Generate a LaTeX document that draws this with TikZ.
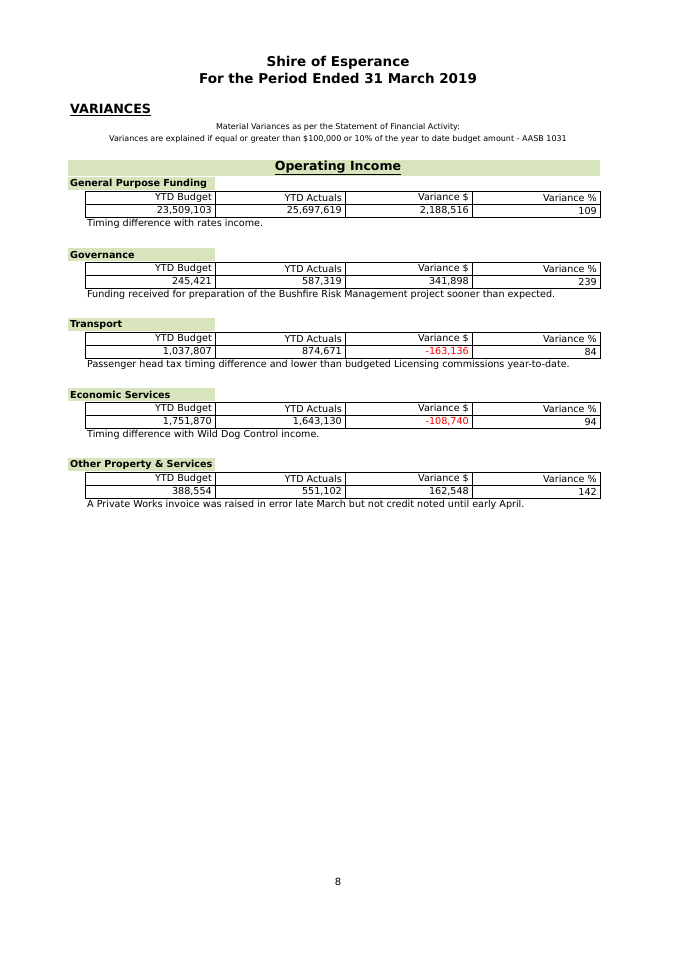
\documentclass[tikz,border=0pt]{standalone}
\usepackage{fontspec}
\setmainfont{DejaVu Sans}
\usepackage{xcolor}
\definecolor{bandgreen}{HTML}{D8E4BC}
\definecolor{negred}{HTML}{FF0000}
\newcommand{\varrow}[8]{%
% header box
\fill[bandgreen] (68,#1) rectangle (215,#1+13);
\node[anchor=west,font=\fontsize{9.6}{10}\selectfont\bfseries,inner sep=1pt] (h#1) at (69,#1+6.5) {#2};
% table
\draw[thin] (85,#1+14) rectangle (600,#1+40);
\draw[thin] (85,#1+27) -- (600,#1+27);
\foreach \cx in {215,345,472} {\draw[thin] (\cx,#1+14) -- (\cx,#1+40);}
\node[cell] at (213,#1+20.5) {YTD Budget};
\node[cell] at (343,#1+20.5) {YTD Actuals};
\node[cell] at (470,#1+20.5) {Variance \$};
\node[cell] at (598,#1+20.5) {Variance \%};
\node[cell] at (213,#1+33.5) {#3};
\node[cell] at (343,#1+33.5) {#4};
\node[cell,text=#8] at (470,#1+33.5) {#5};
\node[cell] at (598,#1+33.5) {#6};
\node[anchor=west,font=\fontsize{9.6}{10}\selectfont,inner sep=1pt] (n#1) at (86,#1+47) {#7};
}
\begin{document}
\begin{tikzpicture}[x=1pt,y=-1pt,
  cell/.style={anchor=east,font=\fontsize{9.6}{10}\selectfont,inner sep=1pt}]
\useasboundingbox[fill=white] (0,0) rectangle (675,954);

\node[font=\fontsize{13.5}{14}\selectfont\bfseries] (title) at (338,63) {Shire of Esperance};
\node[font=\fontsize{13.5}{14}\selectfont\bfseries] (period) at (338,78) {For the Period Ended 31 March 2019};
\node[anchor=west,font=\fontsize{12.7}{14}\selectfont\bfseries,inner sep=1pt] (var) at (69,110) {\underline{VARIANCES}};
\node[font=\fontsize{8}{9}\selectfont] (mat) at (338,127) {Material Variances as per the Statement of Financial Activity:};
\node[font=\fontsize{8}{9}\selectfont] (expl) at (338,139) {Variances are explained if equal or greater than \$100,000 or 10\% of the year to date budget amount - AASB 1031};

\fill[bandgreen] (68,160) rectangle (600,176);
\node[font=\fontsize{12.5}{13}\selectfont\bfseries] (opinc) at (338,168) {\underline{Operating Income}};

\varrow{177}{General Purpose Funding}{23,509,103}{25,697,619}{2,188,516}{109}{Timing difference with rates income.}{black}
\varrow{248}{Governance}{245,421}{587,319}{341,898}{239}{Funding received for preparation of the Bushfire Risk Management project sooner than expected.}{black}
\varrow{318}{Transport}{1,037,807}{874,671}{-163,136}{84}{Passenger head tax timing difference and lower than budgeted Licensing commissions year-to-date.}{negred}
\varrow{388}{Economic Services}{1,751,870}{1,643,130}{-108,740}{94}{Timing difference with Wild Dog Control income.}{negred}
\varrow{458}{Other Property \& Services}{388,554}{551,102}{162,548}{142}{A Private Works invoice was raised in error late March but not credit noted until early April.}{black}

\node[font=\fontsize{10}{11}\selectfont\rmfamily] (page) at (338,882) {8};
\end{tikzpicture}
\end{document}
